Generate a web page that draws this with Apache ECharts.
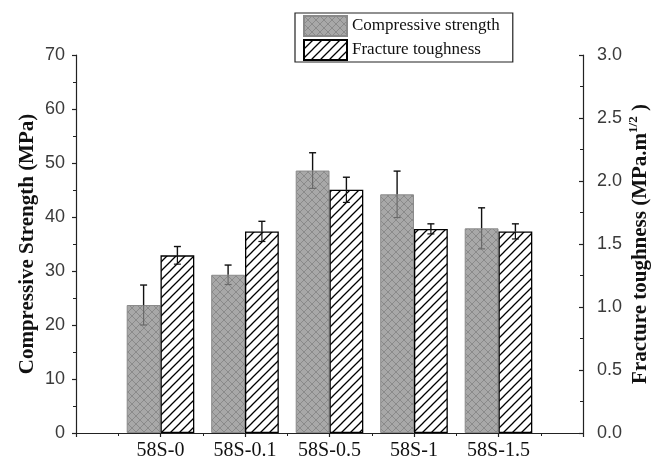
<!DOCTYPE html>
<html><head><meta charset="utf-8">
<script src="https://cdn.jsdelivr.net/npm/echarts@6/dist/echarts.min.js"></script>
<style>html,body{margin:0;padding:0;background:#fff}#c{width:651px;height:464px}</style>
</head><body><div id="c"></div>
<script>
// ---- data ----
const categories = ['58S-0', '58S-0.1', '58S-0.5', '58S-1', '58S-1.5'];
const compressiveStrength = [23.7, 29.3, 48.6, 44.2, 37.9];
const compressiveError = [3.7, 1.8, 3.3, 4.3, 3.8];
const fractureToughness = [1.41, 1.60, 1.93, 1.62, 1.60];
const fractureError = [0.07, 0.08, 0.10, 0.04, 0.06];
const leftAxisTicks = [0, 10, 20, 30, 40, 50, 60, 70];
const rightAxisTicks = [0, 0.5, 1.0, 1.5, 2.0, 2.5, 3.0];
const seriesNames = ['Compressive strength', 'Fracture toughness'];

// ---- styles ----
const BAR_FRAC = 0.4;
function makeCross() {
  const s = 8, c = document.createElement('canvas');
  c.width = s; c.height = s;
  const g = c.getContext('2d');
  g.fillStyle = '#a8a8a8'; g.fillRect(0, 0, s, s);
  g.strokeStyle = '#8a8a8a'; g.lineWidth = 1;
  g.beginPath();
  g.moveTo(0, 0); g.lineTo(s, s);
  g.moveTo(0, s); g.lineTo(s, 0);
  g.stroke();
  return c;
}
function makeHatch() {
  const s = 9, c = document.createElement('canvas');
  c.width = s; c.height = s;
  const g = c.getContext('2d');
  g.fillStyle = '#ffffff'; g.fillRect(0, 0, s, s);
  g.strokeStyle = '#000000'; g.lineWidth = 1.3;
  g.beginPath();
  g.moveTo(-1, s + 1); g.lineTo(s + 1, -1);
  g.moveTo(-2, 2); g.lineTo(2, -2);
  g.moveTo(s - 2, s + 2); g.lineTo(s + 2, s - 2);
  g.stroke();
  return c;
}
const crossPattern = { image: makeCross(), repeat: 'repeat' };
const hatchPattern = { image: makeHatch(), repeat: 'repeat' };

function errorRenderer(side, lowerColor) {
  return function (params, api) {
    const x = api.value(0), v = api.value(1), e = api.value(2);
    const off = api.size([BAR_FRAC / 2, 0])[0];
    const cx = api.coord([x, v])[0] + side * off;
    const yTop = api.coord([x, v + e])[1];
    const yMid = api.coord([x, v])[1];
    const yBot = api.coord([x, v - e])[1];
    const cap = 3.5;
    const st = { stroke: '#111', lineWidth: 1.4 };
    const lo = { stroke: lowerColor, lineWidth: 1.2 };
    return {
      type: 'group', children: [
        { type: 'line', shape: { x1: cx, y1: yTop, x2: cx, y2: yMid }, style: st },
        { type: 'line', shape: { x1: cx, y1: yMid, x2: cx, y2: yBot }, style: lo },
        { type: 'line', shape: { x1: cx - cap, y1: yTop, x2: cx + cap, y2: yTop }, style: st },
        { type: 'line', shape: { x1: cx - cap, y1: yBot, x2: cx + cap, y2: yBot }, style: lo }
      ]
    };
  };
}

const tickFont = { fontFamily: 'Liberation Sans', fontSize: 18, color: '#3a3a3a' };
const axisLineStyle = { color: '#222', width: 1.2 };

const option = {
  animation: false,
  backgroundColor: '#fff',
  grid: { left: 76, right: 68, top: 55, bottom: 31, containLabel: false, outerBoundsMode: 'none' },
  legend: {
    data: seriesNames,
    orient: 'vertical',
    left: 295, top: 13,
    padding: [2, 13, 1, 8],
    itemGap: 2,
    itemWidth: 43, itemHeight: 20,
    icon: 'rect',
    borderColor: '#222', borderWidth: 1.2,
    textStyle: { fontFamily: 'Liberation Serif', fontSize: 17, color: '#111', lineHeight: 21 },
    selectedMode: false
  },
  xAxis: {
    type: 'value',
    min: 0, max: categories.length + 1, interval: 1,
    axisLine: { show: true, lineStyle: axisLineStyle, onZero: false },
    axisTick: { show: true, length: 4, lineStyle: axisLineStyle },
    minorTick: { show: true, splitNumber: 2, length: 3, lineStyle: { color: '#222', width: 1 } },
    splitLine: { show: false },
    axisLabel: {
      margin: 8,
      fontFamily: 'Liberation Serif', fontSize: 20, color: '#111',
      showMinLabel: false, showMaxLabel: false,
      formatter: function (v) { return categories[v - 1] || ''; }
    }
  },
  yAxis: [
    {
      type: 'value', position: 'left',
      min: leftAxisTicks[0], max: leftAxisTicks[leftAxisTicks.length - 1], interval: leftAxisTicks[1] - leftAxisTicks[0],
      name: 'Compressive Strength (MPa)',
      nameLocation: 'middle', nameGap: 38, nameMoveOverlap: false,
      nameTextStyle: { fontFamily: 'Liberation Serif', fontWeight: 'bold', fontSize: 21, color: '#111' },
      axisLine: { show: true, lineStyle: axisLineStyle },
      axisTick: { show: true, length: 4, lineStyle: axisLineStyle },
      minorTick: { show: true, splitNumber: 2, length: 3, lineStyle: { color: '#222', width: 1 } },
      splitLine: { show: false },
      axisLabel: Object.assign({ margin: 11 }, tickFont)
    },
    {
      type: 'value', position: 'right',
      min: rightAxisTicks[0], max: rightAxisTicks[rightAxisTicks.length - 1], interval: rightAxisTicks[1] - rightAxisTicks[0],
      name: '{a|Fracture toughness (MPa.m}{s|1/2}{a| )}',
      nameLocation: 'middle', nameGap: 44, nameMoveOverlap: false,
      nameTextStyle: {
        fontFamily: 'Liberation Serif', fontWeight: 'bold', fontSize: 21, color: '#111',
        rich: {
          a: { fontFamily: 'Liberation Serif', fontWeight: 'bold', fontSize: 21, color: '#111', lineHeight: 24, verticalAlign: 'bottom' },
          s: { fontFamily: 'Liberation Serif', fontWeight: 'bold', fontSize: 13, color: '#111', lineHeight: 13, verticalAlign: 'top' }
        }
      },
      axisLine: { show: true, lineStyle: axisLineStyle },
      axisTick: { show: true, inside: true, length: 4, lineStyle: axisLineStyle },
      minorTick: { show: true, splitNumber: 2, length: 3, lineStyle: { color: '#222', width: 1 } },
      splitLine: { show: false },
      axisLabel: Object.assign({ margin: 14, formatter: function (v) { return v.toFixed(1); } }, tickFont)
    }
  ],
  series: [
    {
      name: seriesNames[0], type: 'bar', yAxisIndex: 0,
      barWidth: (BAR_FRAC * 100) + '%', barGap: '0%',
      itemStyle: { color: crossPattern, borderColor: '#8a8a8a', borderWidth: 1 },
      emphasis: { disabled: true },
      data: compressiveStrength.map(function (v, i) { return [i + 1, v]; })
    },
    {
      name: seriesNames[1], type: 'bar', yAxisIndex: 1,
      barWidth: (BAR_FRAC * 100) + '%', barGap: '0%',
      itemStyle: { color: hatchPattern, borderColor: '#000', borderWidth: 1.3 },
      emphasis: { disabled: true },
      data: fractureToughness.map(function (v, i) { return [i + 1, v]; })
    },
    {
      type: 'custom', yAxisIndex: 0, z: 5,
      renderItem: errorRenderer(-1, '#6a6a6a'),
      data: compressiveStrength.map(function (v, i) { return [i + 1, v, compressiveError[i]]; })
    },
    {
      type: 'custom', yAxisIndex: 1, z: 5,
      renderItem: errorRenderer(1, '#111'),
      data: fractureToughness.map(function (v, i) { return [i + 1, v, fractureError[i]]; })
    }
  ]
};
const chart = echarts.init(document.getElementById('c'), null, { renderer: 'canvas' });
chart.setOption(option);
</script>
</body></html>
